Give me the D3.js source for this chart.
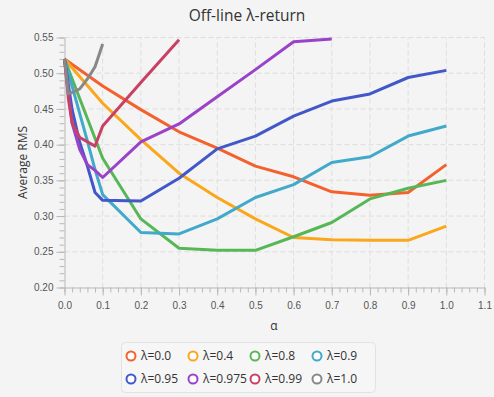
<html>
<head>
<script src="https://cdn.jsdelivr.net/npm/d3@7"></script>
<style>
	body{ margin:0; background:#f4f4f4; font-family:"Open Sans", "Noto Sans", sans-serif; }
	svg{ display:block; }
	.grid line{ stroke:#dedede; stroke-dasharray:5,3; stroke-width:1; }
	.axis path, .axis line{ stroke:#b8b8b8; }
	.axis text{ fill:#555; font-size:10px; }
</style>
</head>
<body>
<div id="container"></div>
<script>
// alpha values that were tried (x axis)
var alphas = [0, 0.01, 0.02, 0.04, 0.06, 0.08, 0.1, 0.2, 0.3, 0.4, 0.5, 0.6, 0.7, 0.8, 0.9, 1.0];

// average RMS per lambda, null = not run
var lam00   = [0.52, null, null, null, null, null, 0.482, 0.449, 0.418, 0.395, 0.370, 0.355, 0.334, 0.329, 0.333, 0.372];
var lam04   = [0.52, null, null, null, null, null, 0.458, 0.407, 0.360, 0.326, 0.296, 0.270, 0.267, 0.266, 0.266, 0.286];
var lam08   = [0.52, null, null, null, null, null, 0.381, 0.296, 0.255, 0.252, 0.252, 0.271, 0.291, 0.324, 0.339, 0.350];
var lam09   = [0.52, null, null, null, 0.405, 0.365, 0.330, 0.277, 0.275, 0.296, 0.326, 0.344, 0.375, 0.383, 0.412, 0.426];
var lam095  = [0.52, null, 0.449, 0.403, 0.370, 0.333, 0.322, 0.321, 0.353, 0.394, 0.412, 0.440, 0.461, 0.471, 0.494, 0.504];
var lam0975 = [0.52, null, 0.430, 0.393, 0.372, 0.364, 0.354, 0.404, 0.429, 0.467, 0.505, 0.544, 0.548, null, null, null];
var lam099  = [0.52, 0.465, 0.430, 0.410, null, 0.398, 0.426, 0.487, 0.547, null, null, null, null, null, null, null];
var lam10   = [0.52, 0.471, 0.473, 0.478, 0.492, 0.509, 0.541, null, null, null, null, null, null, null, null, null];

var seriesNames = ["λ=0.0", "λ=0.4", "λ=0.8", "λ=0.9", "λ=0.95", "λ=0.975", "λ=0.99", "λ=1.0"];
var seriesValues = [lam00, lam04, lam08, lam09, lam095, lam0975, lam099, lam10];
var colors = ["#f3622d", "#fba71b", "#57b757", "#41a9c9", "#4258c9", "#9a42c8", "#c84164", "#888888"];

var xTicks = d3.range(0, 11.5, 1).map(function(d){ return d/10; });
var yTicks = d3.range(20, 56, 5).map(function(d){ return d/100; });

var width = 494, height = 397;

var svg = d3.select("#container").append("svg")
	.attr("width", width)
	.attr("height", height);

var x = d3.scaleLinear().domain([0, 1.1]).range([64.5, 484.5]);
var y = d3.scaleLinear().domain([0.2, 0.55]).range([287.5, 37.5]);

// title
svg.append("text")
	.attr("x", 247).attr("y", 21)
	.attr("text-anchor", "middle")
	.attr("font-size", "15.5px")
	.attr("fill", "#333")
	.text("Off-line λ-return");

// grid
var grid = svg.append("g").attr("class", "grid");
grid.selectAll(".v").data(xTicks.slice(1)).enter().append("line")
	.attr("x1", function(d){ return x(d); }).attr("x2", function(d){ return x(d); })
	.attr("y1", y(0.2)).attr("y2", y(0.55));
grid.selectAll(".h").data(yTicks.slice(1)).enter().append("line")
	.attr("x1", x(0)).attr("x2", x(1.1))
	.attr("y1", function(d){ return y(d); }).attr("y2", function(d){ return y(d); });

// minor ticks first, then major axes
var xMinor = d3.range(0, 111, 2).map(function(d){ return d/100; });
var yMinor = d3.range(20, 56, 1).map(function(d){ return d/100; });

svg.append("g").attr("class", "axis")
	.attr("transform", "translate(0," + y(0.2) + ")")
	.call(d3.axisBottom(x).tickValues(xMinor).tickSize(5).tickFormat(""))
	.select(".domain").remove();
svg.append("g").attr("class", "axis")
	.attr("transform", "translate(" + x(0) + ",0)")
	.call(d3.axisLeft(y).tickValues(yMinor).tickSize(5).tickFormat(""))
	.select(".domain").remove();

svg.append("g").attr("class", "axis")
	.attr("transform", "translate(0," + y(0.2) + ")")
	.call(d3.axisBottom(x).tickValues(xTicks).tickSize(8).tickSizeOuter(0).tickPadding(6).tickFormat(d3.format(".1f")));
svg.append("g").attr("class", "axis")
	.attr("transform", "translate(" + x(0) + ",0)")
	.call(d3.axisLeft(y).tickValues(yTicks).tickSize(8).tickSizeOuter(0).tickPadding(3).tickFormat(d3.format(".2f")));

// axis labels
svg.append("text")
	.attr("x", 274).attr("y", 330)
	.attr("text-anchor", "middle")
	.attr("font-size", "12px").attr("fill", "#333")
	.text("α");
svg.append("text")
	.attr("transform", "translate(27," + ((y(0.2) + y(0.55)) / 2) + ") rotate(-90)")
	.attr("text-anchor", "middle")
	.attr("font-size", "12px").attr("fill", "#333")
	.text("Average RMS");

// lines
var line = d3.line()
	.x(function(d){ return x(d[0]); })
	.y(function(d){ return y(d[1]); });

seriesValues.forEach(function(vals, i){
	var pts = [];
	vals.forEach(function(v, j){ if(v !== null) pts.push([alphas[j], v]); });
	svg.append("path")
		.datum(pts)
		.attr("d", line)
		.attr("fill", "none")
		.attr("stroke", colors[i])
		.attr("stroke-width", 3)
		.attr("stroke-linejoin", "round");
});

// legend
var legend = svg.append("g");
legend.append("rect")
	.attr("x", 121.5).attr("y", 342.5)
	.attr("width", 254).attr("height", 50)
	.attr("rx", 4)
	.attr("fill", "#f6f6f6")
	.attr("stroke", "#e2e2e2");

var items = legend.selectAll(".item").data(seriesNames).enter().append("g")
	.attr("transform", function(d, i){
		return "translate(" + (131 + (i % 4) * 62) + "," + (356 + Math.floor(i / 4) * 23) + ")";
	});
items.append("circle")
	.attr("r", 4.5)
	.attr("fill", "#fff")
	.attr("stroke", function(d, i){ return colors[i]; })
	.attr("stroke-width", 2);
items.append("text")
	.attr("x", 10).attr("dy", "0.35em")
	.attr("font-size", "12px")
	.attr("fill", "#333")
	.text(function(d){ return d; });
</script>
</body>
</html>
